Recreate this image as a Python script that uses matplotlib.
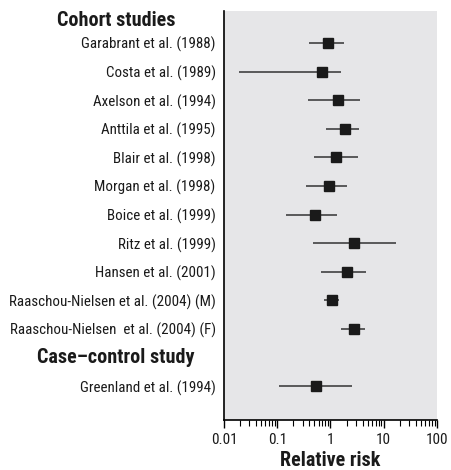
import matplotlib
matplotlib.use("Agg")
import matplotlib.pyplot as plt
import matplotlib.transforms as mtransforms
from matplotlib.ticker import LogLocator, FixedFormatter, FixedLocator, NullFormatter

plt.rcParams['font.family'] = ['Roboto Condensed', 'DejaVu Sans']

# Data
cohort_studies = ["Garabrant et al. (1988)", "Costa et al. (1989)", "Axelson et al. (1994)",
                  "Anttila et al. (1995)", "Blair et al. (1998)", "Morgan et al. (1998)",
                  "Boice et al. (1999)", "Ritz et al. (1999)", "Hansen et al. (2001)",
                  "Raaschou-Nielsen et al. (2004) (M)", "Raaschou-Nielsen  et al. (2004) (F)"]
cohort_rr = [0.91, 0.68, 1.36, 1.85, 1.27, 0.95, 0.52, 2.76, 2.01, 1.08, 2.73]
cohort_lo = [0.40, 0.019, 0.38, 0.82, 0.50, 0.35, 0.148, 0.475, 0.66, 0.77, 1.57]
cohort_hi = [1.79, 1.57, 3.58, 3.43, 3.28, 2.04, 1.33, 16.7, 4.64, 1.46, 4.44]

cc_studies = ["Greenland et al. (1994)"]
cc_rr = [0.53]
cc_lo = [0.108]
cc_hi = [2.57]

labels = cohort_studies + cc_studies
rr = cohort_rr + cc_rr
lo = cohort_lo + cc_lo
hi = cohort_hi + cc_hi
ypos = list(range(1, len(cohort_studies) + 1)) + [len(cohort_studies) + 2]

fig = plt.figure(figsize=(4.52, 4.70), dpi=100)
ax = fig.add_axes([224 / 452, 1 - 420 / 470, 213 / 452, 409 / 470])
ax.set_facecolor('#e6e6e8')

xerr = [[r - l for r, l in zip(rr, lo)], [h - r for r, h in zip(rr, hi)]]
ax.errorbar(rr, ypos, xerr=xerr, fmt='s', color='#1a1a1a', ecolor='#333333',
            elinewidth=1.1, capsize=0, markersize=7.8)

ax.set_xscale('log')
ax.set_xlim(0.01, 100)
ax.set_ylim(14.18, -0.12)

ax.xaxis.set_major_locator(FixedLocator([0.01, 0.1, 1, 10, 100]))
ax.xaxis.set_major_formatter(FixedFormatter(['0.01', '0.1', '1', '10', '100']))
ax.xaxis.set_minor_locator(LogLocator(base=10, subs=range(2, 10)))
ax.xaxis.set_minor_formatter(NullFormatter())
ax.tick_params(axis='x', which='major', length=6, width=1, labelsize=11, pad=3,
               labelcolor='#1a1a1a')
ax.tick_params(axis='x', which='minor', length=4, width=0.8)

ax.set_yticks(ypos)
ax.set_yticklabels(labels, fontsize=10.8, color='#1a1a1a')
ax.tick_params(axis='y', length=0, pad=6)

for s in ['top', 'right']:
    ax.spines[s].set_visible(False)
ax.spines['left'].set_linewidth(1.2)
ax.spines['bottom'].set_linewidth(1.2)

ax.set_xlabel('Relative risk', fontsize=14.5, fontweight='bold', labelpad=3, color='#1a1a1a')

trans = mtransforms.blended_transform_factory(fig.transFigure, ax.transData)
ax.text(116 / 452, 0.2, 'Cohort studies', transform=trans, ha='center', va='center',
        fontsize=14.5, fontweight='bold', clip_on=False, color='#1a1a1a')
ax.text(116 / 452, len(cohort_studies) + 1, 'Case\u2013control study', transform=trans,
        ha='center', va='center', fontsize=14.5, fontweight='bold', clip_on=False,
        color='#1a1a1a')

fig.savefig('out.png', dpi=100)
